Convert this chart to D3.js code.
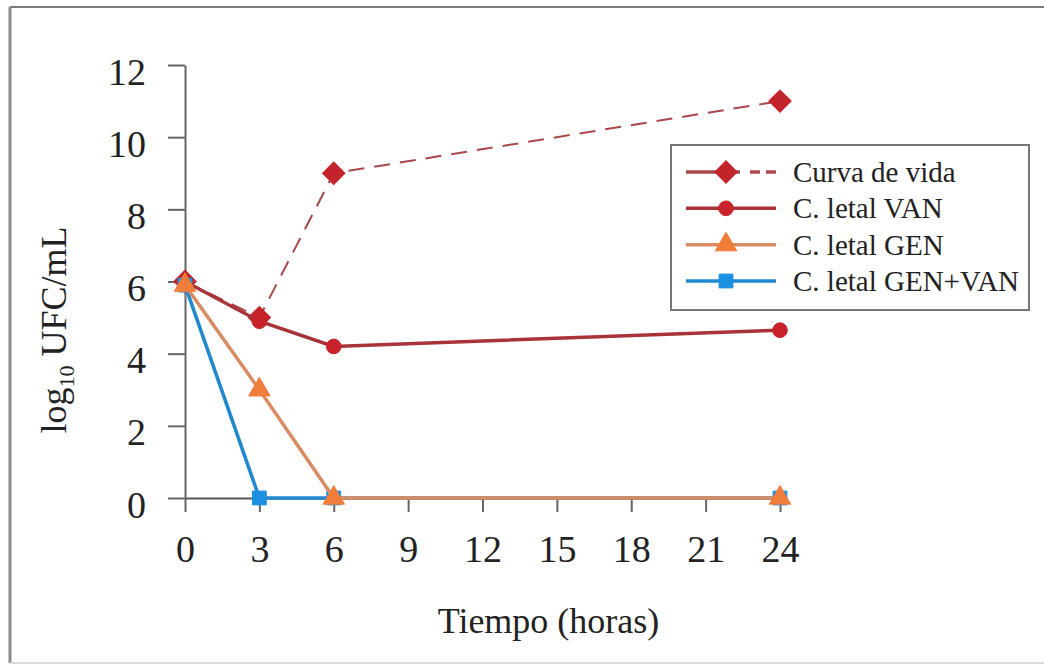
<!DOCTYPE html>
<html>
<head>
<meta charset="utf-8">
<script src="https://cdn.jsdelivr.net/npm/d3@7"></script>
<style>
  html, body { margin: 0; padding: 0; background: #fff; }
  svg { display: block; }
  text { font-family: "Liberation Serif", "Times New Roman", serif; fill: #222; }
</style>
</head>
<body>
<svg id="chart" width="1044" height="666"></svg>
<script>
// Time points (hours) and log10 CFU/mL counts for each curve
const hours = [0, 3, 6, 24];
const curvaVida = [6.0, 5.0, 9.0, 11.0];
const letalVAN = [6.0, 4.9, 4.2, 4.65];
const letalGEN = [5.9, 3.0, 0, 0];
const letalGENVAN = [5.9, 0, 0, 0];

const xTicks = [0, 3, 6, 9, 12, 15, 18, 21, 24];
const yTicks = [0, 2, 4, 6, 8, 10, 12];

const seriesNames = ["Curva de vida", "C. letal VAN", "C. letal GEN", "C. letal GEN+VAN"];

const curva = { name: seriesNames[0], values: curvaVida, line: "#a9474c", fill: "#c3242c", marker: "diamond", dash: "16,10" };
const van = { name: seriesNames[1], values: letalVAN, line: "#a8343a", fill: "#c8222b", marker: "circle", dash: null };
const gen = { name: seriesNames[2], values: letalGEN, line: "#d98c62", fill: "#f07d3a", marker: "triangle", dash: null };
const genvan = { name: seriesNames[3], values: letalGENVAN, line: "#1f88cf", fill: "#1b8fe0", marker: "square", dash: null };

// painting order (bottom to top) and legend order
const drawOrder = [curva, van, genvan, gen];
const legendOrder = [curva, van, gen, genvan];

const svg = d3.select("#chart");

// outer frame
svg.append("line").attr("x1", 10).attr("x2", 1044).attr("y1", 7).attr("y2", 7)
  .attr("stroke", "#7a7a7a").attr("stroke-width", 2);
svg.append("line").attr("x1", 10).attr("x2", 10).attr("y1", 7).attr("y2", 663)
  .attr("stroke", "#8a8a8a").attr("stroke-width", 3);
svg.append("line").attr("x1", 10).attr("x2", 1044).attr("y1", 663).attr("y2", 663)
  .attr("stroke", "#dcdcdc").attr("stroke-width", 2);

const x = d3.scaleLinear().domain([0, 24]).range([185, 780]);
const y = d3.scaleLinear().domain([0, 12]).range([498, 65]);

// y axis
const gy = svg.append("g")
  .attr("transform", `translate(${x(0)},0)`)
  .call(d3.axisLeft(y).tickValues(yTicks).tickSize(17).tickSizeOuter(0).tickPadding(22));
gy.select(".domain").attr("stroke", "#666").attr("stroke-width", 2);
gy.selectAll(".tick line").attr("stroke", "#666").attr("stroke-width", 2);
gy.selectAll(".tick text")
  .attr("font-size", 38).attr("font-family", "Liberation Serif, serif")
  .attr("fill", "#222").attr("dy", "0.5em");

// x axis
const gx = svg.append("g")
  .attr("transform", `translate(0,${y(0)})`)
  .call(d3.axisBottom(x).tickValues(xTicks).tickSize(14).tickSizeOuter(0).tickPadding(23));
gx.select(".domain").attr("stroke", "#555").attr("stroke-width", 2);
gx.selectAll(".tick line").attr("stroke", "#666").attr("stroke-width", 2);
gx.selectAll(".tick text")
  .attr("font-size", 38).attr("font-family", "Liberation Serif, serif")
  .attr("fill", "#222");

// axis titles
svg.append("text")
  .attr("x", x(12) + 66).attr("y", 633)
  .attr("text-anchor", "middle").attr("font-size", 36)
  .text("Tiempo (horas)");

const yt = svg.append("text")
  .attr("transform", "translate(66,330) rotate(-90)")
  .attr("text-anchor", "middle").attr("font-size", 36);
yt.append("tspan").text("log");
yt.append("tspan").attr("font-size", 22).attr("dy", 8).text("10");
yt.append("tspan").attr("dy", -8).text(" UFC/mL");

// marker shapes
const symbolFor = {
  diamond: d3.symbol().type(d3.symbolSquare).size(250),
  circle: d3.symbol().type(d3.symbolCircle).size(170),
  triangle: d3.symbol().type(d3.symbolTriangle).size(200),
  square: d3.symbol().type(d3.symbolSquare).size(190)
};

function drawMarker(g, s, cx, cy) {
  const p = g.append("path")
    .attr("d", symbolFor[s.marker]())
    .attr("fill", s.fill)
    .attr("stroke", s.fill).attr("stroke-width", 1);
  if (s.marker === "diamond") p.attr("transform", `translate(${cx},${cy}) rotate(45)`);
  else p.attr("transform", `translate(${cx},${cy})`);
}

const line = d3.line().x((d, i) => x(hours[i])).y(d => y(d));

const plot = svg.append("g");
drawOrder.forEach(s => {
  plot.append("path")
    .datum(s.values)
    .attr("d", line)
    .attr("fill", "none")
    .attr("stroke", s.line)
    .attr("stroke-width", s.dash ? 2 : 3.5)
    .attr("stroke-dasharray", s.dash);
  s.values.forEach((v, i) => drawMarker(plot, s, x(hours[i]), y(v)));
});

// legend
const legend = svg.append("g");
legend.append("rect")
  .attr("x", 671).attr("y", 145).attr("width", 358).attr("height", 165)
  .attr("fill", "#fff").attr("stroke", "#777").attr("stroke-width", 2);

const rowY = d3.scalePoint().domain(legendOrder.map(s => s.name)).range([172, 281]);
legendOrder.forEach(s => {
  const yy = rowY(s.name);
  if (s.dash) {
    legend.append("line").attr("x1", 686).attr("x2", 740).attr("y1", yy).attr("y2", yy)
      .attr("stroke", s.line).attr("stroke-width", 3.5);
    legend.append("line").attr("x1", 750).attr("x2", 776).attr("y1", yy).attr("y2", yy)
      .attr("stroke", s.line).attr("stroke-width", 3.5).attr("stroke-dasharray", "10,6");
  } else {
    legend.append("line").attr("x1", 686).attr("x2", 776).attr("y1", yy).attr("y2", yy)
      .attr("stroke", s.line).attr("stroke-width", 3.5);
  }
  drawMarker(legend, s, 726, yy);
  legend.append("text")
    .attr("x", 793).attr("y", yy).attr("dy", "0.35em")
    .attr("font-size", 29)
    .text(s.name);
});
</script>
</body>
</html>
